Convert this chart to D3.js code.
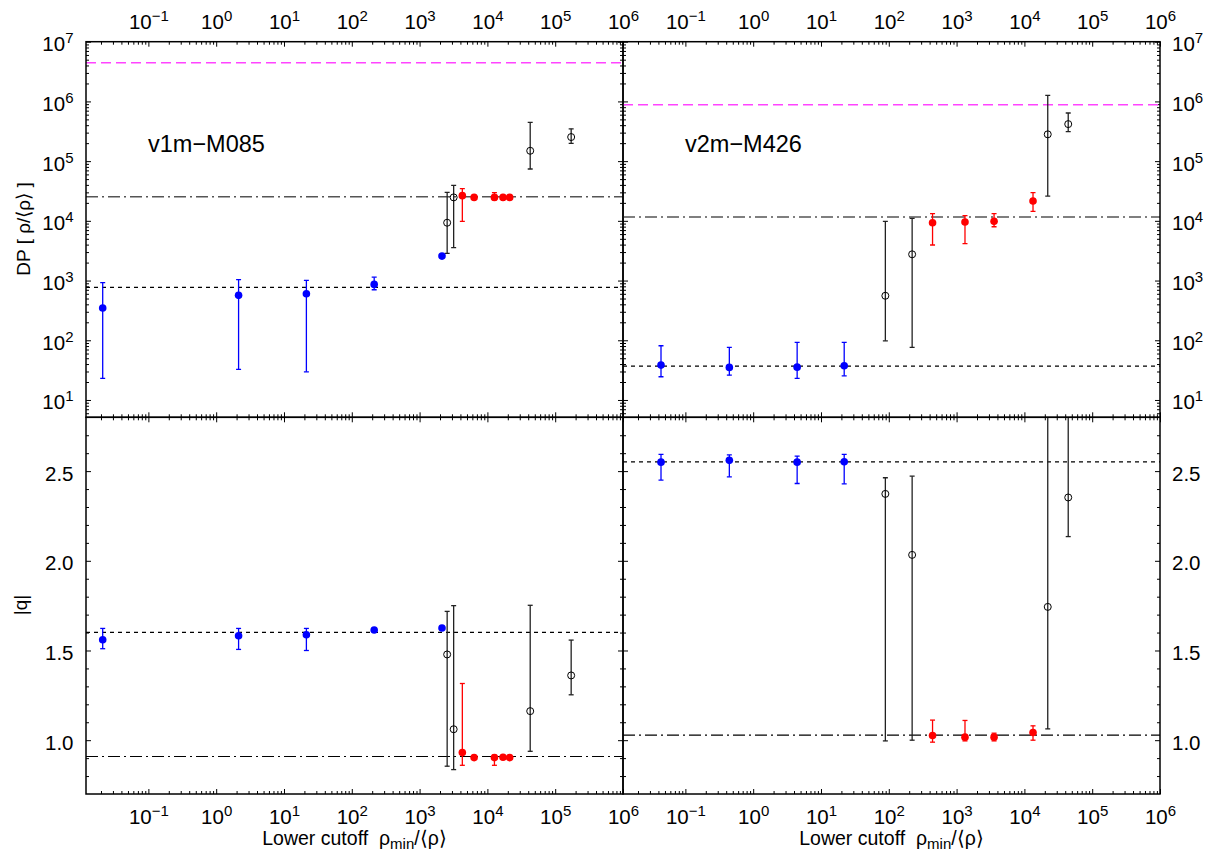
<!DOCTYPE html>
<html>
<head>
<meta charset="utf-8">
<script src="https://cdn.jsdelivr.net/npm/d3@7"></script>
<style>
  body { margin: 0; background: #fff; }
  text { font-family: "Liberation Sans", Arial, sans-serif; fill: #000; }
</style>
</head>
<body>
<svg id="chart" width="1215" height="851"></svg>
<script>
// rows: rho_min/<rho>, DP, DP low, DP high, |q|, |q| low, |q| high
var m085Blue = [
  [0.0212, 347, 23, 920, 1.56, 1.51, 1.623],
  [2.14, 565, 32.6, 1040, 1.582, 1.506, 1.623],
  [21.4, 600, 29.6, 1005, 1.588, 1.50, 1.623],
  [214, 863, 701, 1140, 1.614, 1.605, 1.620],
  [2140, 2570, 2570, 2570, 1.625, 1.625, 1.625]
];
var m085Red = [
  [4270, 26400, 9800, 34700, 0.931, 0.86, 1.316],
  [6370, 24700, 24000, 25400, 0.903, 0.895, 0.91],
  [12700, 24700, 22400, 29600, 0.903, 0.86, 0.916],
  [17000, 24700, 24000, 25400, 0.905, 0.90, 0.91],
  [21300, 24700, 24000, 25400, 0.903, 0.90, 0.91]
];
var m085Open = [
  [2550, 9300, 2850, 30000, 1.478, 0.855, 1.718],
  [3180, 24700, 3560, 39400, 1.061, 0.836, 1.75],
  [42800, 149000, 73800, 447000, 1.162, 0.938, 1.752],
  [172000, 253000, 199000, 347000, 1.361, 1.253, 1.558]
];
var m426Blue = [
  [0.0437, 38.4, 24.5, 81, 2.55, 2.45, 2.593],
  [0.445, 35.1, 26, 76, 2.56, 2.468, 2.59],
  [4.45, 35.5, 23, 92, 2.55, 2.431, 2.584],
  [22, 37.4, 25.4, 92, 2.552, 2.429, 2.593]
];
var m426Red = [
  [442, 9300, 3940, 13200, 1.026, 0.989, 1.112],
  [1330, 9560, 4160, 12200, 1.017, 0.996, 1.11],
  [3570, 9800, 7960, 13200, 1.017, 0.996, 1.039],
  [13400, 21500, 14400, 29600, 1.043, 1.0, 1.08]
];
var m426Open = [
  [89, 556, 98, 9800, 2.373, 0.996, 2.463],
  [221, 2750, 76, 11000, 2.033, 1.0, 2.472],
  [22100, 281000, 26000, 1260000, 1.743, 1.063, 3.5],
  [44300, 417000, 311000, 640000, 2.353, 2.135, 3.2]
];
// reference levels: [magenta DP, dash-dot DP, dashed DP, dash-dot |q|, dashed |q|]
var m085Levels = [4450000, 25300, 769, 0.909, 1.601];
var m426Levels = [880000, 11600, 37, 1.028, 2.552];

var panelNames = ["v1m\u2212M085", "v2m\u2212M426"];
var xMajor = [1e-1, 1e0, 1e1, 1e2, 1e3, 1e4, 1e5, 1e6];
var yMajorDP = [1e1, 1e2, 1e3, 1e4, 1e5, 1e6, 1e7];
var yMajorQ = [1.0, 1.5, 2.0, 2.5];

var svg = d3.select('#chart');
svg.append('rect').attr('width', 1215).attr('height', 851).attr('fill', '#fff');

var cols = [[86, 623], [623, 1160]];
var rowTop = [41.7, 417.3], rowBot = [417.3, 794];
var tickFont = '20.5px';

function logMinors(lo, hi) {
  var out = [];
  for (var e = lo; e <= hi; e++) for (var m = 2; m <= 9; m++) out.push(m * Math.pow(10, e));
  return out;
}
var xMinor = logMinors(-2, 5).filter(function(v){ return v > Math.pow(10, -1.92); });
var yMinorDP = logMinors(0, 6).filter(function(v){ return v > Math.pow(10, 0.71); });
var yMinorQ = d3.range(0.8, 2.75, 0.1).map(function(v){ return +v.toFixed(1); })
  .filter(function(v){ return yMajorQ.indexOf(v) < 0; });

function powLabel(sel) {
  sel.each(function(d) {
    var t = d3.select(this);
    var e = Math.round(Math.log10(d));
    t.text(null);
    t.append('tspan').text('10');
    t.append('tspan').attr('dy', -8).style('font-size', '15px')
      .text(e < 0 ? '\u2212' + (-e) : e);
  });
}

function addAxis(g, axis, pos, labels, isLog, side) {
  var a = g.append('g').attr('transform', pos).call(axis);
  a.select('.domain').remove();
  a.selectAll('line').attr('stroke', '#000').attr('stroke-width', 1);
  a.selectAll('text').style('font-size', tickFont).attr('fill', '#000')
    .style('font-family', '"Liberation Sans", Arial, sans-serif');
  if (side === 'left' || side === 'right') a.selectAll('text').attr('dy', 9);
  if (!labels) a.selectAll('text').remove();
  else if (isLog) a.selectAll('.tick text').call(powLabel);
  return a;
}

function panel(col, row, rows, levels, name) {
  var cx = cols[col], ry = row === 0 ? rowTop : rowBot;
  var x = d3.scaleLog().domain([Math.pow(10, -1.92), 1e6]).range(cx);
  var y, yi, lo, hi;
  if (row === 0) {
    y = d3.scaleLog().domain([Math.pow(10, 0.71), 1e7]).range([ry[1], ry[0]]);
    yi = 1; lo = 2; hi = 3;
  } else {
    y = d3.scaleLinear().domain([0.7, 2.8]).range([ry[1], ry[0]]);
    yi = 4; lo = 5; hi = 6;
  }
  var g = svg.append('g');
  var id = 'clip' + col + row;
  g.append('clipPath').attr('id', id).append('rect')
    .attr('x', cx[0]).attr('y', ry[0]).attr('width', cx[1] - cx[0]).attr('height', ry[1] - ry[0]);

  // ticks on all four sides, pointing inward
  var yMaj = row === 0 ? yMajorDP : yMajorQ, yMin = row === 0 ? yMinorDP : yMinorQ;
  var isLogY = row === 0;
  addAxis(g, d3.axisTop(x).tickValues(xMajor).tickSize(-5).tickPadding(12.4).tickFormat(d3.format('')),
    'translate(0,' + ry[0] + ')', row === 0, true, 'top');
  addAxis(g, d3.axisTop(x).tickValues(xMinor).tickSize(-3).tickFormat(''), 'translate(0,' + ry[0] + ')', false);
  addAxis(g, d3.axisBottom(x).tickValues(xMajor).tickSize(-5).tickPadding(15.4).tickFormat(d3.format('')),
    'translate(0,' + ry[1] + ')', row === 1, true, 'bottom');
  addAxis(g, d3.axisBottom(x).tickValues(xMinor).tickSize(-3).tickFormat(''), 'translate(0,' + ry[1] + ')', false);
  var fmtY = isLogY ? d3.format('') : d3.format('.1f');
  addAxis(g, d3.axisLeft(y).tickValues(yMaj).tickSize(-5).tickPadding(12.5).tickFormat(fmtY),
    'translate(' + cx[0] + ',0)', col === 0, isLogY, 'left');
  addAxis(g, d3.axisLeft(y).tickValues(yMin).tickSize(-3).tickFormat(''), 'translate(' + cx[0] + ',0)', false);
  addAxis(g, d3.axisRight(y).tickValues(yMaj).tickSize(-5).tickPadding(12).tickFormat(fmtY),
    'translate(' + cx[1] + ',0)', col === 1, isLogY, 'right');
  addAxis(g, d3.axisRight(y).tickValues(yMin).tickSize(-3).tickFormat(''), 'translate(' + cx[1] + ',0)', false);

  var plot = g.append('g').attr('clip-path', 'url(#' + id + ')');

  // horizontal reference levels
  var lines = row === 0
    ? [{v: levels[0], c: '#ff44ff', d: '10,5', w: 1.4}, {v: levels[1], c: '#555', d: '12,4,2,4', w: 1.6}, {v: levels[2], c: '#000', d: '4,4', w: 1.2}]
    : [{v: levels[3], c: '#000', d: '12,4,2,4', w: 1.2}, {v: levels[4], c: '#000', d: '4,4', w: 1.2}];
  plot.selectAll('.level').data(lines).enter().append('line')
    .attr('x1', cx[0]).attr('x2', cx[1])
    .attr('y1', function(d){ return y(d.v); }).attr('y2', function(d){ return y(d.v); })
    .attr('stroke', function(d){ return d.c; }).attr('stroke-width', function(d){ return d.w; })
    .attr('stroke-dasharray', function(d){ return d.d; });

  var series = [
    {data: rows.open, c: '#222', filled: false},
    {data: rows.blue, c: '#0000ff', filled: true},
    {data: rows.red, c: '#ff0000', filled: true}
  ];
  series.forEach(function(s) {
    var eb = plot.append('g').attr('stroke', s.c).attr('stroke-width', 1.3);
    var withErr = s.data.filter(function(d){ return d[lo] !== d[hi]; });
    eb.selectAll('.bar').data(withErr).enter().append('line')
      .attr('x1', function(d){ return x(d[0]); }).attr('x2', function(d){ return x(d[0]); })
      .attr('y1', function(d){ return y(d[lo]); }).attr('y2', function(d){ return y(d[hi]); });
    [lo, hi].forEach(function(k) {
      eb.selectAll('.cap' + k).data(withErr).enter().append('line')
        .attr('x1', function(d){ return x(d[0]) - 2.5; }).attr('x2', function(d){ return x(d[0]) + 2.5; })
        .attr('y1', function(d){ return y(d[k]); }).attr('y2', function(d){ return y(d[k]); });
    });
    plot.append('g').selectAll('circle').data(s.data).enter().append('circle')
      .attr('cx', function(d){ return x(d[0]); }).attr('cy', function(d){ return y(d[yi]); })
      .attr('r', s.filled ? 3.8 : 3.5)
      .attr('fill', s.filled ? s.c : 'none')
      .attr('stroke', s.filled ? 'none' : '#000').attr('stroke-width', 1);
  });

  g.append('rect').attr('x', cx[0]).attr('y', ry[0]).attr('width', cx[1] - cx[0]).attr('height', ry[1] - ry[0])
    .attr('fill', 'none').attr('stroke', '#000').attr('stroke-width', 1.5);

  if (row === 0) {
    g.append('text').attr('x', cx[0] + 62).attr('y', 152)
      .style('font-size', '23.5px').text(name);
  } else {
    var t = g.append('text').attr('x', (cx[0] + cx[1]) / 2 + 0).attr('y', 845)
      .attr('text-anchor', 'middle').style('font-size', '19.5px').style('white-space', 'pre');
    t.append('tspan').text('Lower cutoff  \u03c1');
    t.append('tspan').attr('dy', 4).style('font-size', '15px').text('min');
    t.append('tspan').attr('dy', -4).text('/\u27e8\u03c1\u27e9');
  }
}

panel(0, 0, {blue: m085Blue, red: m085Red, open: m085Open}, m085Levels, panelNames[0]);
panel(1, 0, {blue: m426Blue, red: m426Red, open: m426Open}, m426Levels, panelNames[1]);
panel(0, 1, {blue: m085Blue, red: m085Red, open: m085Open}, m085Levels, panelNames[0]);
panel(1, 1, {blue: m426Blue, red: m426Red, open: m426Open}, m426Levels, panelNames[1]);

svg.append('text').attr('transform', 'translate(30,229) rotate(-90)').attr('text-anchor', 'middle')
  .style('font-size', '19px').text('DP [ \u03c1/\u27e8\u03c1\u27e9 ]');
svg.append('text').attr('transform', 'translate(27,605) rotate(-90)').attr('text-anchor', 'middle')
  .style('font-size', '19px').text('|q|');
</script>
</body>
</html>
